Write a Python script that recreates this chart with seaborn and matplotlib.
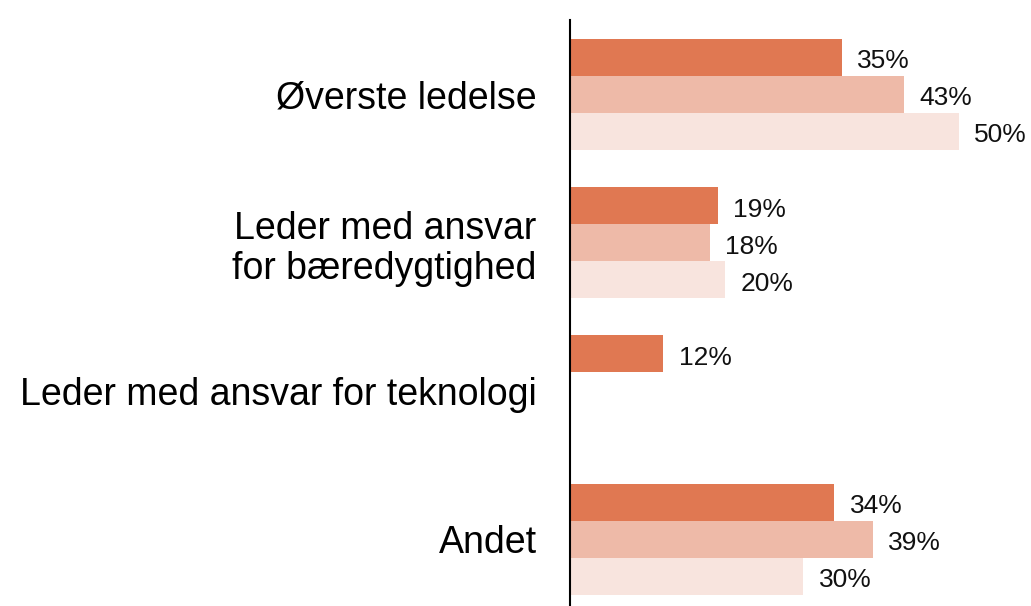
import numpy as np
import pandas as pd
import matplotlib
matplotlib.use("Agg")
import matplotlib.pyplot as plt
import seaborn as sns

categories = ["Øverste ledelse", "Leder med ansvar\nfor bæredygtighed",
              "Leder med ansvar for teknologi", "Andet"]
series_names = ["Serie 1", "Serie 2", "Serie 3"]
serie_1 = [35, 19, 12, 34]
serie_2 = [43, 18, np.nan, 39]
serie_3 = [50, 20, np.nan, 30]
colors = ["#E07852", "#EEBAA8", "#F8E4DE"]

rows = []
for name, vals in zip(series_names, [serie_1, serie_2, serie_3]):
    for c, v in zip(categories, vals):
        rows.append({"Kategori": c, "Serie": name, "Værdi": v})
df = pd.DataFrame(rows)

sns.set_style("white")
plt.rcParams["font.family"] = ["Liberation Sans", "DejaVu Sans"]

fig = plt.figure(figsize=(10.31, 6.06), dpi=100)
ax = fig.add_axes([570 / 1031, 0, (1031 - 570) / 1031, (606 - 20) / 606])

sns.barplot(data=df, y="Kategori", x="Værdi", hue="Serie", order=categories,
            hue_order=series_names, palette=colors, width=0.75, orient="h",
            ax=ax, legend=False, saturation=1, linewidth=0)

for cont in ax.containers:
    labels = ["" if (v is None or np.isnan(v)) else f"{v:.0f}%" for v in cont.datavalues]
    anns = ax.bar_label(cont, labels=labels, padding=11, fontsize=19, color="#111111")
    for a in anns:
        a.xyann = (11, -3)

ax.set_xlim(0, 59.3)
ax.set_ylim(3.45, -0.5)
ax.set_xlabel("")
ax.set_ylabel("")
ax.set_xticks([])
ax.tick_params(axis="y", length=0, pad=24, labelsize=27, labelcolor="#000000")
for lbl in ax.get_yticklabels():
    lbl.set_horizontalalignment("right")
    lbl.set_multialignment("right")
    lbl.set_linespacing(1.15)
for s in ["top", "right", "bottom"]:
    ax.spines[s].set_visible(False)
ax.spines["left"].set_color("black")
ax.spines["left"].set_linewidth(1.5)

fig.savefig("out.png", dpi=100)
